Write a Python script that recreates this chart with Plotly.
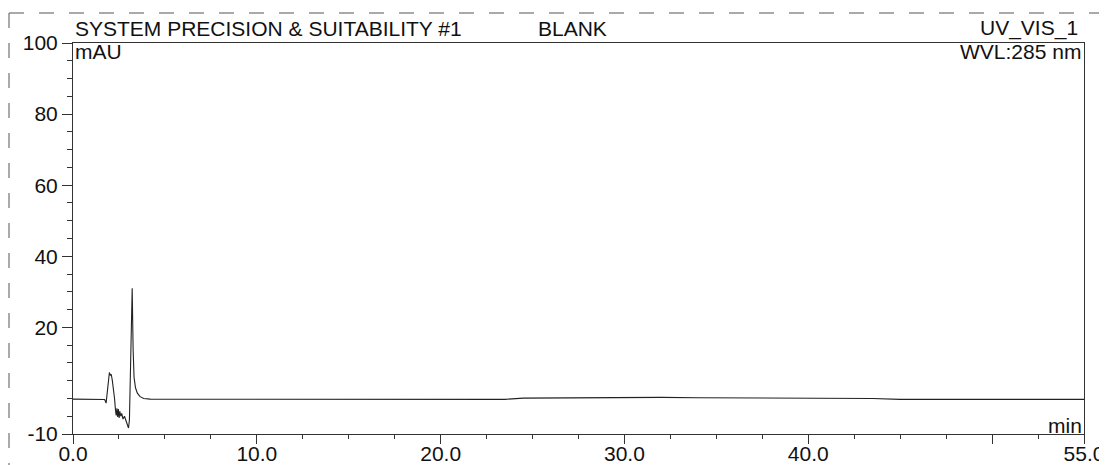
import plotly.graph_objects as go

# Retention time (min) and absorbance (mAU)
time_min = [0, 1.5, 1.72, 1.8, 1.86, 1.92, 1.98, 2.03, 2.08, 2.14,
            2.2, 2.26, 2.31, 2.35, 2.39, 2.43, 2.47, 2.51, 2.55, 2.6,
            2.65, 2.72, 2.8, 2.88, 2.95, 3.02, 3.07, 3.12, 3.17, 3.22,
            3.27, 3.32, 3.4, 3.5, 3.65, 3.85, 4.2, 5, 6, 8,
            10, 12, 14, 16, 18, 20, 22, 23.5, 24.5, 26,
            28, 30, 32, 34, 36, 38, 40, 42, 43.5, 45,
            47, 49, 51, 53, 55]
signal_mau = [-0.2, -0.2, -0.3, -1.3, 1.5, 5.5, 7.3, 6.5, 6.8, 5.0,
              3.0, 0.0, -3.2, -4.8, -2.8, -5.2, -3.0, -5.5, -3.6, -5.0,
              -4.2, -5.8, -5.0, -6.2, -7.0, -8.3, -6.0, 4.0, 18.0, 31.0,
              14.0, 6.0, 3.0, 1.5, 0.5, 0.0, -0.2, -0.2, -0.1, -0.2,
              -0.2, -0.1, -0.2, -0.2, -0.25, -0.2, -0.2, -0.25, 0.1, 0.15,
              0.2, 0.25, 0.3, 0.2, 0.2, 0.15, 0.2, 0.1, 0.0, -0.25,
              -0.25, -0.2, -0.3, -0.25, -0.25]

x_tick_vals = [0, 10, 20, 30, 40, 50, 55]
x_tick_text = ["0.0", "10.0", "20.0", "30.0", "40.0", "", "55.0"]
x_minor_vals = [v * 2.5 for v in range(23) if (v * 2.5) not in x_tick_vals]
y_tick_vals = [-10, 20, 40, 60, 80, 100]
y_tick_text = ["-10", "20", "40", "60", "80", "100"]
y_minor_vals = [v for v in range(-5, 100, 5) if v not in y_tick_vals]

FONT = "Liberation Sans, Arial, sans-serif"
INK = "#111111"
LINE = "#333333"

fig = go.Figure()
fig.add_trace(go.Scatter(x=time_min, y=signal_mau, mode="lines",
                         line=dict(color="#222222", width=1.1),
                         showlegend=False, hoverinfo="x+y"))

axis_common = dict(showgrid=False, zeroline=False, showline=True,
                   linecolor=LINE, linewidth=1, mirror=True,
                   automargin=False,
                   ticks="outside", tickcolor=LINE, tickwidth=1,
                   tickfont=dict(family=FONT, size=21, color=INK))

fig.update_xaxes(range=[0, 55], tickmode="array", tickvals=x_tick_vals,
                 ticktext=x_tick_text, ticklen=9, ticklabelstandoff=-8,
                 minor=dict(tickmode="array", tickvals=x_minor_vals,
                            ticks="outside", ticklen=4, tickcolor=LINE),
                 **axis_common)
fig.update_yaxes(range=[-10, 100], tickmode="array", tickvals=y_tick_vals,
                 ticktext=y_tick_text, ticklen=10,
                 minor=dict(tickmode="array", tickvals=y_minor_vals,
                            ticks="outside", ticklen=5, tickcolor=LINE),
                 **axis_common)

ann_font = dict(family=FONT, size=21, color=INK)
annotations = [
    dict(text="SYSTEM PRECISION & SUITABILITY #1", x=0.0, y=1.038,
         xanchor="left", yanchor="middle"),
    dict(text="BLANK", x=0.458, y=1.038, xanchor="left", yanchor="middle"),
    dict(text="UV_VIS_1", x=0.996, y=1.038, xanchor="right", yanchor="middle"),
    dict(text="mAU", x=0.0, y=0.978, xanchor="left", yanchor="middle"),
    dict(text="WVL:285 nm", x=0.999, y=0.978, xanchor="right", yanchor="middle"),
    dict(text="min", x=1.0, y=0.0, xanchor="right", yanchor="bottom", yshift=-5),
]
for a in annotations:
    fig.add_annotation(xref="paper", yref="paper", showarrow=False,
                       font=ann_font, **a)

# Scanned page frame: top rule and dashed left margin line
fig.add_shape(type="line", xref="paper", yref="paper",
              x0=-0.0633, x1=1.03, y0=1.0767, y1=1.0767,
              line=dict(color="#555555", width=1, dash="longdash"))
fig.add_shape(type="line", xref="paper", yref="paper",
              x0=-0.0633, x1=-0.0633, y0=1.0767, y1=-0.08,
              line=dict(color="#555555", width=1, dash="longdash"))

# The page body has an 8px default margin, so the figure is sized to fill
# the remaining visible area of the 1107x465 window.
fig.update_layout(width=1099, height=457,
                  margin=dict(l=65, r=23, t=35, b=31),
                  paper_bgcolor="white", plot_bgcolor="white",
                  font=dict(family=FONT, color=INK))

fig.write_html("out.html")
